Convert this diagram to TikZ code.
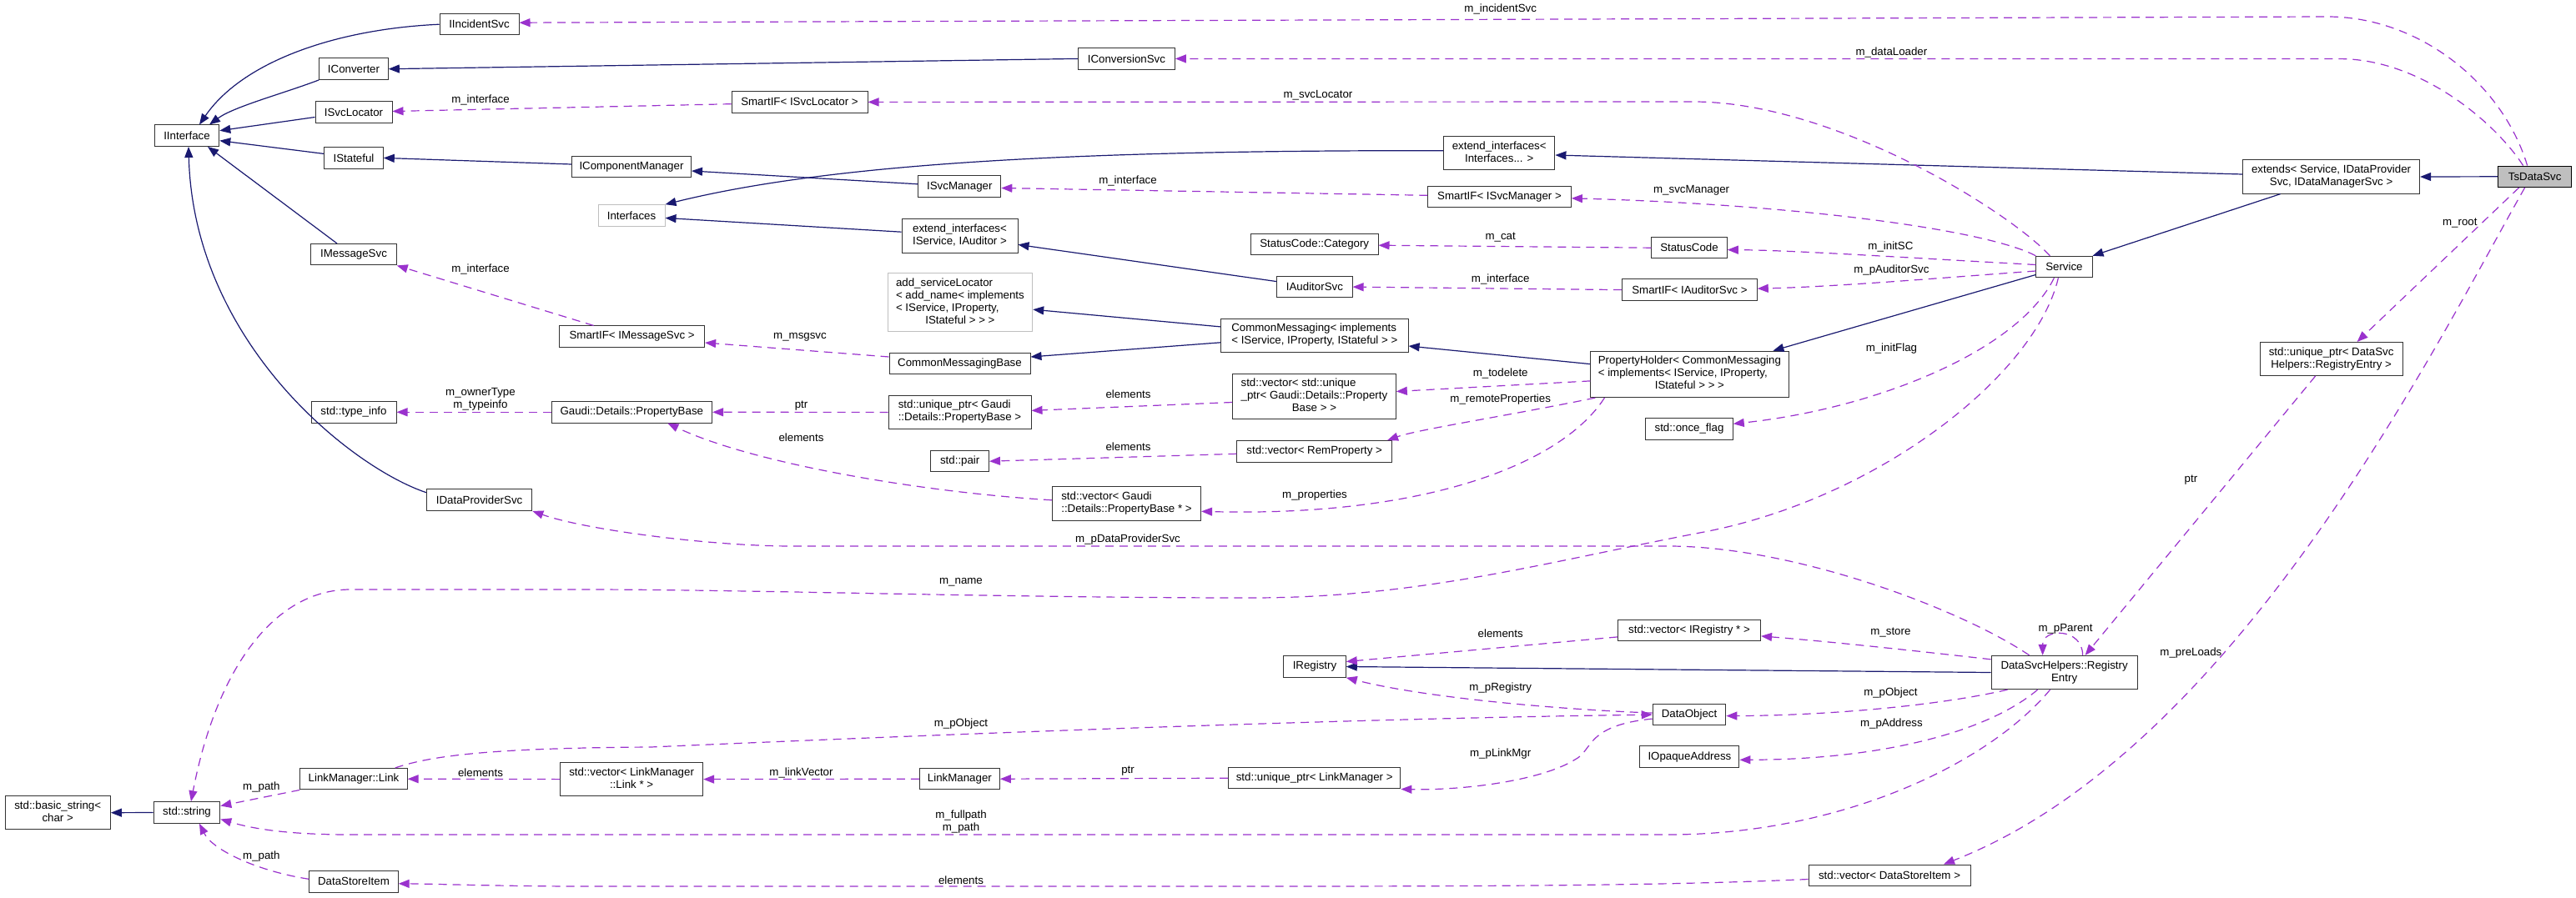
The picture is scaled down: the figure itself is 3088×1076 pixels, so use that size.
\documentclass[tikz,border=0pt]{standalone}
\usepackage{fontspec}
\setmainfont{Liberation Sans}
\usetikzlibrary{arrows.meta,calc}
\definecolor{mblue}{HTML}{191970}
\definecolor{dpurple}{HTML}{9A32CD}
\definecolor{gborder}{HTML}{BFBFBF}
\definecolor{nborder}{HTML}{333333}
\newcommand{\ml}[2]{\begin{tabular}{@{}l@{}}#1\\\multicolumn{1}{@{}c@{}}{#2}\end{tabular}}
\tikzset{
  box/.style={draw=nborder, line width=1pt, fill=white, inner sep=0pt, minimum height=25.5pt},
  gbox/.style={box, draw=gborder},
  inh/.style={draw=mblue, line width=1.2pt, -{Triangle[length=13pt,width=10pt]}},
  dep/.style={draw=dpurple, line width=1.2pt, dash pattern=on 10pt off 7pt, -{Triangle[length=13pt,width=10pt]}},
  lbl/.style={inner sep=0pt, text=black, align=center},
}
\begin{document}
\begin{tikzpicture}[x=1pt,y=-1pt,font=\fontsize{13.3pt}{15pt}\selectfont]
\fill[white] (0,0) rectangle (3088,1076);
\useasboundingbox (0,0) rectangle (3088,1076);

% ---------- nodes ----------
\node[box, minimum width=95pt] (IIncidentSvc) at (574.5,29.2) {IIncidentSvc};
\node[box, minimum width=82.6pt] (IConverter) at (424,82.7) {IConverter};
\node[box, minimum width=92pt] (ISvcLocator) at (424,134.5) {ISvcLocator};
\node[box, minimum width=77.6pt] (IInterface) at (224,162.7) {IInterface};
\node[box, minimum width=70.6pt] (IStateful) at (424,189.4) {IStateful};
\node[box, minimum width=143pt] (IComponentManager) at (757,200) {IComponentManager};
\node[gbox, minimum width=80pt] (Interfaces) at (757,258.4) {Interfaces};
\node[box, minimum width=102.5pt] (IMessageSvc) at (424,305.2) {IMessageSvc};
\node[box, minimum width=174pt] (SmartIFMsg) at (757.6,403.7) {SmartIF< IMessageSvc >};
\node[box, minimum width=102pt] (typeinfo) at (424,494.3) {std::type\_info};
\node[box, minimum width=192.6pt] (PropertyBase) at (757.3,494.3) {Gaudi::Details::PropertyBase};
\node[box, minimum width=116pt] (IConversionSvc) at (1350.4,70.4) {IConversionSvc};
\node[box, minimum width=163pt] (SmartIFLoc) at (958.5,122.4) {SmartIF< ISvcLocator >};
\node[box, minimum width=99pt, minimum height=26.3pt] (ISvcManager) at (1150.3,223.8) {ISvcManager};
\node[box, minimum width=139pt, minimum height=40.6pt] (extIA) at (1150.5,282.7) {\ml{extend\_interfaces<}{ IService, IAuditor >}};
\node[box, minimum width=152.6pt] (StatusCat) at (1575.7,293.2) {StatusCode::Category};
\node[box, minimum width=90.3pt] (IAuditorSvc) at (1575.9,344.1) {IAuditorSvc};
\node[gbox, minimum width=173.6pt, minimum height=70pt] (addSL) at (1150.9,362.8) {\ml{add\_serviceLocator\\< add\_name< implements\\< IService, IProperty,}{IStateful > > >}};
\node[box, minimum width=224.5pt, minimum height=40.5pt] (CM) at (1575.8,402.3) {\ml{CommonMessaging< implements}{< IService, IProperty, IStateful > >}};
\node[box, minimum width=169pt] (CMB) at (1150.5,435.8) {CommonMessagingBase};
\node[box, minimum width=171pt, minimum height=40.8pt] (uPB) at (1150.5,494.4) {\ml{std::unique\_ptr< Gaudi}{::Details::PropertyBase >}};
\node[box, minimum width=195.8pt, minimum height=54.5pt] (vuPB) at (1575.4,475.5) {\ml{std::vector< std::unique\\\_ptr< Gaudi::Details::Property}{Base > >}};
\node[box, minimum width=185.7pt] (vRem) at (1575.7,541.3) {std::vector< RemProperty >};
\node[box, minimum width=69.6pt] (pair) at (1150.7,553.2) {std::pair};
\node[box, minimum width=178.2pt, minimum height=40.5pt] (vPB) at (1350.5,603.8) {\ml{std::vector< Gaudi}{::Details::PropertyBase * >}};
\node[box, minimum width=133.4pt, minimum height=40.3pt] (extI) at (1797.2,183.7) {\ml{extend\_interfaces<}{Interfaces... >}};
\node[box, minimum width=171.7pt] (SmartIFMgr) at (1797.5,235.8) {SmartIF< ISvcManager >};
\node[box, minimum width=90.5pt] (StatusCode) at (2025,297.2) {StatusCode};
\node[box, minimum width=161.7pt] (SmartIFAud) at (2025.4,347.6) {SmartIF< IAuditorSvc >};
\node[box, minimum width=237.3pt, minimum height=55.5pt] (PH) at (2025.4,448.9) {\ml{PropertyHolder< CommonMessaging\\< implements< IService, IProperty,}{IStateful > > >}};
\node[box, minimum width=104.5pt] (onceflag) at (2025,514.3) {std::once\_flag};
\node[box, minimum width=212pt, minimum height=40.3pt] (extends) at (2794.6,212) {\ml{extends< Service, IDataProvider}{Svc, IDataManagerSvc >}};
\node[box, minimum width=88pt, fill=gborder, draw=black] (TsDataSvc) at (3038.6,211.8) {TsDataSvc};
\node[box, minimum width=67.2pt] (Service) at (2474.4,320) {Service};
\node[box, minimum width=171pt, minimum height=40pt] (uRE) at (2794.6,430.5) {\ml{std::unique\_ptr< DataSvc}{Helpers::RegistryEntry >}};
\node[box, minimum width=126.4pt] (IDataProviderSvc) at (574.6,599.7) {IDataProviderSvc};
\node[box, minimum width=128.4pt] (LMLink) at (424,934.2) {LinkManager::Link};
\node[box, minimum width=171pt, minimum height=39.6pt] (vLink) at (757.1,934.6) {\ml{std::vector< LinkManager}{::Link * >}};
\node[box, minimum width=126.4pt, minimum height=40pt] (basicstring) at (69.2,974.7) {\ml{std::basic\_string<}{char >}};
\node[box, minimum width=79.6pt] (stdstring) at (224,974.5) {std::string};
\node[box, minimum width=106.4pt] (DSI) at (424,1057.3) {DataStoreItem};
\node[box, minimum width=96pt] (LinkManager) at (1150.4,934.2) {LinkManager};
\node[box, minimum width=206.3pt] (uLM) at (1575.7,933.2) {std::unique\_ptr< LinkManager >};
\node[box, minimum width=171pt] (vReg) at (2025,755.9) {std::vector< IRegistry * >};
\node[box, minimum width=74.5pt] (IRegistry) at (1576,799.5) {IRegistry};
\node[box, minimum width=87.6pt] (DataObject) at (2025,857.1) {DataObject};
\node[box, minimum width=119pt] (IOpaque) at (2025.4,907.7) {IOpaqueAddress};
\node[box, minimum width=194pt, minimum height=25pt] (vDSI) at (2265,1049.5) {std::vector< DataStoreItem >};
\node[box, minimum width=175.2pt, minimum height=40.3pt] (RE) at (2474.6,806.5) {\ml{DataSvcHelpers::Registry}{Entry}};

% ---------- inheritance ----------
\draw[inh] (IIncidentSvc.west) .. controls (400,35) and (290,75) .. ($(IInterface.north)+(15,0)$);
\draw[inh] (IConverter.south west) .. controls (340,112) and (280,128) .. ($(IInterface.north)+(27,0)$);
\draw[inh] ($(ISvcLocator.west)+(0,6)$) -- ($(IInterface.east)+(0,-6)$);
\draw[inh] ($(IStateful.west)+(0,-5)$) -- ($(IInterface.east)+(0,6)$);
\draw[inh] ($(IMessageSvc.north)+(-20,0)$) -- ($(IInterface.south)+(25,0)$);
\draw[inh] ($(IDataProviderSvc.west)+(0,-9)$) .. controls (420,560) and (232,410) .. ($(IInterface.south)+(2,0)$);
\draw[inh] (IConversionSvc.west) -- (IConverter.east);
\draw[inh] ($(IComponentManager.west)+(0,-3)$) -- (IStateful.east);
\draw[inh] ($(ISvcManager.west)+(0,-3)$) -- ($(IComponentManager.east)+(0,5)$);
\draw[inh] ($(extI.west)+(0,-3)$) .. controls (1300,180) and (1000,195) .. (Interfaces.north east);
\draw[inh] ($(extIA.west)+(0,-4.5)$) -- ($(Interfaces.east)+(0,3)$);
\draw[inh] ($(IAuditorSvc.west)+(0,-6.5)$) -- ($(extIA.east)+(0,10.7)$);
\draw[inh] ($(CM.west)+(0,-10.4)$) -- ($(addSL.east)+(0,8.4)$);
\draw[inh] ($(CM.west)+(0,8.5)$) -- ($(CMB.east)+(0,-7.8)$);
\draw[inh] ($(PH.west)+(0,-12.3)$) -- ($(CM.east)+(0,12.7)$);
\draw[inh] ($(Service.west)+(0,9.5)$) -- ($(PH.north)+(100,0)$);
\draw[inh] ($(extends.south)+(-61,0)$) -- (Service.north east);
\draw[inh] ($(extends.west)+(0,-3)$) -- ($(extI.east)+(0,2.3)$);
\draw[inh] (TsDataSvc.west) -- (extends.east);
\draw[inh] (RE.west) -- (IRegistry.east);
\draw[inh] (stdstring.west) -- (basicstring.east);

% ---------- dependencies ----------
\draw[dep] ($(TsDataSvc.north)+(-9,0)$) .. controls (3000,100) and (2900,20) .. (2790,20) -- ($(IIncidentSvc.east)+(0,-2)$);
\draw[dep] ($(TsDataSvc.north)+(-14,0)$) .. controls (2990,145) and (2900,70.6) .. (2805,70.6) -- (IConversionSvc.east);
\draw[dep] ($(Service.north)+(-17,0)$) .. controls (2410,255) and (2200,122) .. (2030,122) -- (SmartIFLoc.east);
\draw[dep] ($(SmartIFLoc.west)+(0,2.3)$) -- ($(ISvcLocator.east)+(0,-1)$);
\draw[dep] (Service.north west) .. controls (2380,275) and (2150,245) .. ($(SmartIFMgr.east)+(0,2)$);
\draw[dep] ($(SmartIFMgr.west)+(0,-1.5)$) -- ($(ISvcManager.east)+(0,1.7)$);
\draw[dep] ($(Service.west)+(0,-2.5)$) .. controls (2300,310) and (2150,300) .. ($(StatusCode.east)+(0,2.4)$);
\draw[dep] (StatusCode.west) -- ($(StatusCat.east)+(0,1)$);
\draw[dep] ($(Service.west)+(0,5)$) .. controls (2330,333) and (2200,344) .. ($(SmartIFAud.east)+(0,-1.5)$);
\draw[dep] (SmartIFAud.west) -- (IAuditorSvc.east);
\draw[dep] ($(SmartIFMsg.north)+(-46,0)$) -- (IMessageSvc.south east);
\draw[dep] ($(CMB.west)+(0,-7.8)$) -- ($(SmartIFMsg.east)+(0,7.3)$);
\draw[dep] ($(Service.south)+(-12,0)$) .. controls (2420,420) and (2250,490) .. ($(onceflag.east)+(0,-6)$);
\draw[dep] ($(PH.west)+(0,8)$) -- ($(vuPB.east)+(0,-6)$);
\draw[dep] ($(PH.south west)+(6,0)$) .. controls (1800,500) and (1700,515) .. ($(vRem.north east)+(-6,0)$);
\draw[dep] ($(PH.south)+(-102,0)$) .. controls (1870,560) and (1700,620) .. ($(vPB.east)+(0,9.5)$);
\draw[dep] ($(vuPB.west)+(0,7)$) -- ($(uPB.east)+(0,-2)$);
\draw[dep] ($(vRem.west)+(0,3)$) -- (pair.east);
\draw[dep] (uPB.west) -- (PropertyBase.east);
\draw[dep] ($(vPB.west)+(0,-4)$) .. controls (1100,590) and (900,555) .. ($(PropertyBase.south)+(43,0)$);
\draw[dep] (PropertyBase.west) -- (typeinfo.east);
\draw[dep] ($(RE.north)+(-42,0)$) .. controls (2350,730) and (2150,655) .. (2000,655) -- (950,655) .. controls (850,655) and (700,635) .. (IDataProviderSvc.south east);
\draw[dep] ($(Service.south)+(-7,0)$) .. controls (2440,450) and (2250,600) .. (2037.5,639) .. controls (1850,675) and (1700,717) .. (1500,717) .. controls (1200,717) and (900,707) .. (700,707) -- (420,707) .. controls (330,707) and (260,800) .. ($(stdstring.north)+(5,0)$);
\draw[dep] ($(RE.west)+(0,-15.7)$) .. controls (2300,781) and (2200,770) .. ($(vReg.east)+(0,7)$);
\draw[dep] ($(vReg.west)+(0,8)$) -- ($(IRegistry.east)+(0,-6)$);
\draw[dep] ($(DataObject.west)+(0,-2)$) .. controls (1850,850) and (1700,835) .. (IRegistry.south east);
\draw[dep] ($(RE.south west)+(20,0)$) .. controls (2330,845) and (2200,858) .. ($(DataObject.east)+(0,1.5)$);
\draw[dep] ($(LMLink.north east)+(-15,0)$) .. controls (520,905) and (600,897) .. (780,896) .. controls (1100,882) and (1600,862) .. (DataObject.west);
\draw[dep] ($(DataObject.west)+(0,5)$) .. controls (1900,870) and (1910,900) .. (1888,911) .. controls (1850,935) and (1760,948) .. (uLM.south east);
\draw[dep] (uLM.west) -- (LinkManager.east);
\draw[dep] (LinkManager.west) -- (vLink.east);
\draw[dep] (vLink.west) -- (LMLink.east);
\draw[dep] (LMLink.south west) -- ($(stdstring.east)+(0,-8)$);
\draw[dep] ($(RE.south)+(-17,0)$) .. controls (2380,920) and (2200,1001) .. (2000,1001) -- (420,1001) .. controls (340,1001) and (300,993) .. ($(stdstring.east)+(0,8)$);
\draw[dep] ($(DSI.west)+(0,-3)$) .. controls (310,1045) and (255,1020) .. ($(stdstring.south)+(15,0)$);
\draw[dep] ($(vDSI.west)+(0,5)$) .. controls (2000,1062) and (1800,1063) .. (1500,1063) -- (700,1063) .. controls (600,1063) and (520,1060) .. ($(DSI.east)+(0,2.5)$);
\draw[dep] ($(TsDataSvc.south)+(-12,0)$) .. controls (2921,411) and (2680,900) .. ($(vDSI.north)+(65,0)$);
\draw[dep] ($(TsDataSvc.south)+(-19,0)$) -- ($(uRE.north)+(31,0)$);
\draw[dep] ($(uRE.south)+(-19,0)$) -- ($(RE.north)+(25,0)$);
\draw[dep] ($(RE.north)+(22,0)$) .. controls +(0,-33) and +(0,-33) .. ($(RE.north)+(-26,0)$);
\draw[dep] ($(RE.south)+(-32,0)$) .. controls (2380,880) and (2250,911) .. ($(IOpaque.east)+(0,3.6)$);

% ---------- labels ----------
\node[lbl] (L1) at (1798.7,11.4) {m\_incidentSvc};
\node[lbl] (L2) at (2267.4,62.7) {m\_dataLoader};
\node[lbl] (L3) at (1580,114.7) {m\_svcLocator};
\node[lbl] (L4) at (576,120.5) {m\_interface};
\node[lbl] (L5) at (1352,216.9) {m\_interface};
\node[lbl] (L6) at (2027.6,228.3) {m\_svcManager};
\node[lbl] (L7) at (1798.7,284.4) {m\_cat};
\node[lbl] (L8) at (2266.4,295.5) {m\_initSC};
\node[lbl] (L9) at (2267.4,324.4) {m\_pAuditorSvc};
\node[lbl] (L10) at (1798.7,335.4) {m\_interface};
\node[lbl] (L11) at (576,322.7) {m\_interface};
\node[lbl] (L12) at (959,404.6) {m\_msgsvc};
\node[lbl] (L13) at (2267.4,418.4) {m\_initFlag};
\node[lbl] (L14) at (1798.7,448.3) {m\_todelete};
\node[lbl] (L15) at (1798.7,478.7) {m\_remoteProperties};
\node[lbl] (L16) at (1576,594.5) {m\_properties};
\node[lbl] (L17) at (1352.5,472.4) {elements};
\node[lbl] (L18) at (1352.5,535.7) {elements};
\node[lbl] (L19) at (960.5,524.5) {elements};
\node[lbl] (L20) at (960.5,486.6) {ptr};
\node[lbl] (L21) at (576,479.2) {m\_ownerType\\m\_typeinfo};
\node[lbl] (L22) at (1352,647) {m\_pDataProviderSvc};
\node[lbl] (L23) at (1152,698.5) {m\_name};
\node[lbl] (L24) at (2266.4,759) {m\_store};
\node[lbl] (L25) at (1798.7,759.8) {elements};
\node[lbl] (L26) at (1798.7,824.6) {m\_pRegistry};
\node[lbl] (L27) at (2266.4,831.5) {m\_pObject};
\node[lbl] (L28) at (2267.4,868.3) {m\_pAddress};
\node[lbl] (L29) at (1152,868.3) {m\_pObject};
\node[lbl] (L30) at (1798.7,903.8) {m\_pLinkMgr};
\node[lbl] (L31) at (1352,924.4) {ptr};
\node[lbl] (L32) at (960.5,926.8) {m\_linkVector};
\node[lbl] (L33) at (576,926.8) {elements};
\node[lbl] (L34) at (313.4,944) {m\_path};
\node[lbl] (L35) at (1152,985.4) {m\_fullpath\\m\_path};
\node[lbl] (L36) at (313.4,1026.7) {m\_path};
\node[lbl] (L37) at (1152,1055.3) {elements};
\node[lbl] (L38) at (2626.4,783.2) {m\_preLoads};
\node[lbl] (L39) at (2948.8,268) {m\_root};
\node[lbl] (L40) at (2626.4,575.6) {ptr};
\node[lbl] (L41) at (2476,754.7) {m\_pParent};
\end{tikzpicture}
\end{document}
